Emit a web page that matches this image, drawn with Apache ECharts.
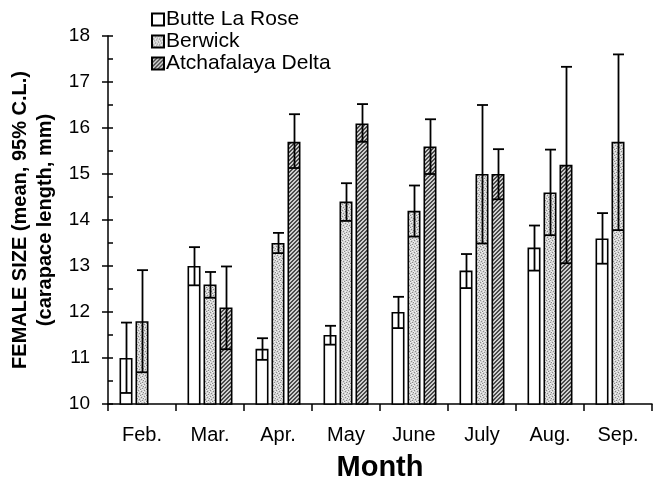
<!DOCTYPE html>
<html>
<head>
<meta charset="utf-8">
<script src="https://cdn.jsdelivr.net/npm/echarts@6/dist/echarts.min.js"></script>
<style>
  html, body { margin: 0; padding: 0; background: #fff; }
  #chart { width: 654px; height: 485px; }
</style>
</head>
<body>
<div id="chart"></div>
<script>
// Female size by month and site: mean carapace length with 95% confidence limits
const months = ['Feb.', 'Mar.', 'Apr.', 'May', 'June', 'July', 'Aug.', 'Sep.'];
const siteNames = ['Butte La Rose', 'Berwick', 'Atchafalaya Delta'];

const butteMean = [11.0, 13.0, 11.2, 11.5, 12.0, 12.9, 13.4, 13.6];
const butteLow  = [10.24, 12.58, 10.96, 11.29, 11.65, 12.52, 12.90, 13.05];
const butteHigh = [11.77, 13.41, 11.43, 11.70, 12.33, 13.26, 13.88, 14.15];

const berwickMean = [11.8, 12.6, 13.5, 14.4, 14.2, 15.0, 14.6, 15.7];
const berwickLow  = [10.69, 12.31, 13.28, 13.98, 13.64, 13.49, 13.67, 13.78];
const berwickHigh = [12.91, 12.87, 13.72, 14.80, 14.75, 16.50, 15.53, 17.60];

const deltaMean = [null, 12.1, 15.7, 16.1, 15.6, 15.0, 15.2, null];
const deltaLow  = [null, 11.19, 15.13, 15.70, 15.00, 14.45, 13.06, null];
const deltaHigh = [null, 12.99, 16.30, 16.52, 16.19, 15.54, 17.33, null];

const yMin = 10, yMax = 18, yStep = 1;

// ---- fill textures -------------------------------------------------------
function makeTile(w, h, paint) {
  const c = document.createElement('canvas');
  c.width = w; c.height = h;
  const ctx = c.getContext('2d');
  paint(ctx, w, h);
  return c;
}
// fine stipple: light grey ground with darker and lighter specks
const stippleTile = makeTile(6, 6, (ctx, w, h) => {
  ctx.fillStyle = '#d4d4d4';
  ctx.fillRect(0, 0, w, h);
  const dark = [[0,0],[3,1],[1,3],[4,4],[2,5],[5,2]];
  const light = [[2,0],[5,1],[0,2],[3,3],[1,5],[4,5]];
  ctx.fillStyle = '#8a8a8a';
  dark.forEach(p => ctx.fillRect(p[0], p[1], 1, 1));
  ctx.fillStyle = '#f5f5f5';
  light.forEach(p => ctx.fillRect(p[0], p[1], 1, 1));
});
// diagonal hatching rising to the right
const hatchTile = makeTile(4, 4, (ctx, w, h) => {
  for (let y = 0; y < h; y++) {
    for (let x = 0; x < w; x++) {
      ctx.fillStyle = ((x + y) % 4 < 2) ? '#4a4a4a' : '#d0d0d0';
      ctx.fillRect(x, y, 1, 1);
    }
  }
});

const fills = [
  '#ffffff',
  { image: stippleTile, repeat: 'repeat' },
  { image: hatchTile, repeat: 'repeat' }
];

// ---- layout constants for grouped bars and whiskers -------------------------
const BAR_W = 13;
const GAP_RATIO = 0.23;
const BAR_STEP = BAR_W * (1 + GAP_RATIO);
const CAP_W = 11;
const FONT = "'Liberation Sans', Arial, sans-serif";

function errorBarRenderer(slot) {
  return function (params, api) {
    const i = api.value(0);
    const lo = api.coord([i, api.value(1)]);
    const hi = api.coord([i, api.value(2)]);
    const x = Math.round(lo[0] + (slot - 1) * BAR_STEP) + 0.5;
    const h = CAP_W / 2;
    const st = { stroke: '#000', lineWidth: 1.8 };
    return {
      type: 'group',
      children: [
        { type: 'line', shape: { x1: x, y1: lo[1], x2: x, y2: hi[1] }, style: st },
        { type: 'line', shape: { x1: x - h, y1: hi[1], x2: x + h, y2: hi[1] }, style: st },
        { type: 'line', shape: { x1: x - h, y1: lo[1], x2: x + h, y2: lo[1] }, style: st }
      ]
    };
  };
}

function whiskerData(low, high) {
  const out = [];
  low.forEach((v, i) => { if (v != null) out.push([i, v, high[i]]); });
  return out;
}

const means = [butteMean, berwickMean, deltaMean];
const lows = [butteLow, berwickLow, deltaLow];
const highs = [butteHigh, berwickHigh, deltaHigh];

const barSeries = siteNames.map((name, k) => ({
  name: name,
  type: 'bar',
  data: means[k],
  barWidth: BAR_W,
  barGap: (GAP_RATIO * 100) + '%',
  itemStyle: { color: fills[k], borderColor: '#000', borderWidth: 1.6 },
  emphasis: { disabled: true },
  z: 2
}));

const whiskerSeries = siteNames.map((name, k) => ({
  name: name + ' CL',
  type: 'custom',
  renderItem: errorBarRenderer(k),
  data: whiskerData(lows[k], highs[k]),
  encode: { x: 0, y: [1, 2] },
  silent: true,
  z: 5
}));

const chart = echarts.init(document.getElementById('chart'), null, { renderer: 'canvas' });
chart.setOption({
  animation: false,
  backgroundColor: '#fff',
  textStyle: { fontFamily: FONT, color: '#000' },
  grid: { left: 108, right: 2, top: 36, bottom: 81, outerBoundsMode: 'none', containLabel: false },
  legend: {
    data: siteNames,
    orient: 'vertical',
    left: 146,
    top: 4,
    itemWidth: 12,
    itemHeight: 12,
    itemGap: 1,
    icon: 'rect',
    selectedMode: false,
    textStyle: { fontFamily: FONT, fontSize: 21, color: '#000', padding: [0, 0, 0, -3] }
  },
  xAxis: {
    type: 'category',
    data: months,
    boundaryGap: true,
    name: 'Month',
    nameLocation: 'middle',
    nameGap: 49,
    nameTextStyle: { fontFamily: FONT, fontSize: 29, fontWeight: 'bold', color: '#000' },
    axisLine: { lineStyle: { color: '#000', width: 1.5 } },
    axisTick: { show: true, alignWithLabel: false, length: 7, lineStyle: { color: '#000', width: 1.5 } },
    axisLabel: { fontFamily: FONT, fontSize: 20, color: '#000', margin: 21 },
    splitLine: { show: false }
  },
  yAxis: [
    {
      type: 'value',
      min: yMin, max: yMax, interval: yStep,
      name: 'FEMALE SIZE (mean, 95% C.L.)\n(carapace length, mm)',
      nameLocation: 'middle',
      nameGap: 49,
      nameRotate: 90,
      nameTextStyle: { fontFamily: FONT, fontSize: 20, fontWeight: 'bold', color: '#000', lineHeight: 25, align: 'center' },
      axisLine: { show: true, lineStyle: { color: '#000', width: 1.5 } },
      axisTick: { show: true, inside: false, length: 6, lineStyle: { color: '#000', width: 1.5 } },
      axisLabel: { fontFamily: FONT, fontSize: 19, color: '#000', margin: 18 },
      splitLine: { show: false }
    },
    {
      type: 'value',
      min: yMin, max: yMax, interval: yStep / 2,
      position: 'left',
      offset: 0,
      axisLine: { show: false },
      axisTick: { show: true, inside: true, length: 5, lineStyle: { color: '#000', width: 1.5 } },
      axisLabel: { show: false },
      splitLine: { show: false }
    }
  ],
  series: barSeries.concat(whiskerSeries)
});
</script>
</body>
</html>
